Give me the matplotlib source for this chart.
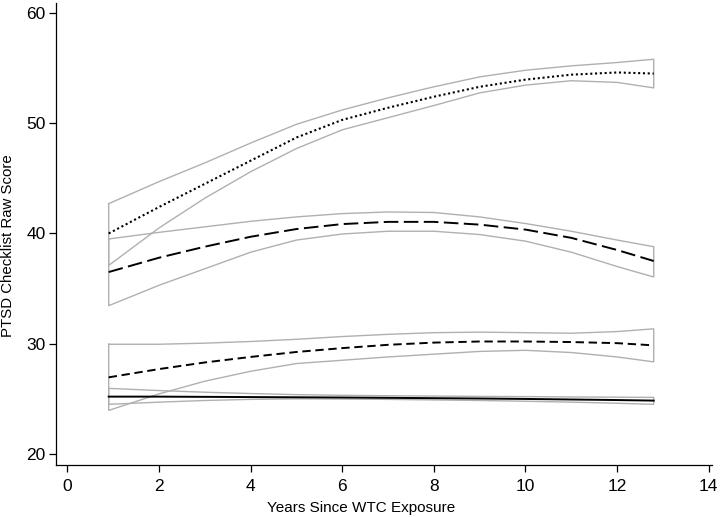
import matplotlib
matplotlib.use("Agg")
import matplotlib.pyplot as plt
import numpy as np

plt.rcParams['font.family'] = ['Liberation Sans', 'DejaVu Sans']

years = [0.9, 2, 3, 4, 5, 6, 7, 8, 9, 10, 11, 12, 12.8]

# Group 1 (dotted)
g1_mean = [40.0, 42.4, 44.5, 46.6, 48.7, 50.3, 51.4, 52.4, 53.3, 53.95, 54.4, 54.6, 54.5]
g1_upper = [42.7, 44.7, 46.4, 48.2, 49.9, 51.2, 52.3, 53.3, 54.2, 54.8, 55.2, 55.5, 55.8]
g1_lower = [37.1, 40.5, 43.2, 45.6, 47.7, 49.4, 50.5, 51.6, 52.75, 53.45, 53.85, 53.7, 53.2]

# Group 2 (long dash)
g2_mean = [36.5, 37.8, 38.8, 39.7, 40.4, 40.85, 41.05, 41.05, 40.8, 40.35, 39.6, 38.5, 37.5]
g2_upper = [39.5, 40.1, 40.6, 41.1, 41.5, 41.8, 41.95, 41.9, 41.5, 40.9, 40.2, 39.4, 38.8]
g2_lower = [33.45, 35.3, 36.8, 38.3, 39.4, 39.95, 40.2, 40.2, 39.9, 39.3, 38.3, 37.0, 36.05]

# Group 3 (short dash)
g3_mean = [26.95, 27.7, 28.3, 28.8, 29.25, 29.6, 29.9, 30.1, 30.2, 30.2, 30.15, 30.05, 29.85]
g3_upper = [29.95, 29.95, 30.05, 30.2, 30.4, 30.65, 30.85, 31.0, 31.05, 31.0, 30.95, 31.1, 31.35]
g3_lower = [23.95, 25.45, 26.6, 27.5, 28.2, 28.5, 28.8, 29.05, 29.3, 29.4, 29.2, 28.8, 28.35]

# Group 4 (solid)
g4_mean = [25.2, 25.2, 25.18, 25.16, 25.14, 25.12, 25.09, 25.06, 25.03, 24.99, 24.94, 24.89, 24.84]
g4_upper = [25.95, 25.75, 25.6, 25.48, 25.38, 25.32, 25.28, 25.25, 25.22, 25.2, 25.17, 25.15, 25.13]
g4_lower = [24.5, 24.7, 24.85, 24.95, 25.0, 24.98, 24.95, 24.9, 24.85, 24.78, 24.7, 24.6, 24.5]

x_ticks = [0, 2, 4, 6, 8, 10, 12, 14]
y_ticks = [20, 30, 40, 50, 60]

fig = plt.figure(figsize=(7.22, 5.17), dpi=100)
ax = fig.add_axes([0.0776, 0.1006, 0.9084, 0.8936])

band_color = '#b0b0b0'
groups = [
    (g1_mean, g1_upper, g1_lower, (0, (1.0, 1.3)), 1.5),
    (g2_mean, g2_upper, g2_lower, (0, (7.5, 2.8)), 1.4),
    (g3_mean, g3_upper, g3_lower, (0, (4.3, 2.4)), 1.4),
    (g4_mean, g4_upper, g4_lower, '-', 1.4),
]

for mean, up, lo, ls, lw in groups:
    bx = list(years) + list(years[::-1]) + [years[0]]
    by = list(up) + list(lo[::-1]) + [up[0]]
    ax.plot(bx, by, color=band_color, lw=1.0, solid_joinstyle='miter')

for mean, up, lo, ls, lw in groups:
    ax.plot(years, mean, color='black', lw=lw, linestyle=ls)

ax.set_xlim(-0.25, 14.07)
ax.set_ylim(19.0, 60.9)
ax.set_xticks(x_ticks)
ax.set_yticks(y_ticks)
ax.spines['top'].set_visible(False)
ax.spines['right'].set_visible(False)
for s in ['left', 'bottom']:
    ax.spines[s].set_linewidth(0.9)
ax.tick_params(axis='both', direction='out', length=5, width=0.9, labelsize=12.5)
ax.tick_params(axis='x', pad=5)
ax.tick_params(axis='y', pad=2.5)
ax.set_xlabel('Years Since WTC Exposure', fontsize=11)
ax.set_ylabel('PTSD Checklist Raw Score', fontsize=10.8)
ax.xaxis.set_label_coords(0.465, -0.077)
ax.yaxis.set_label_coords(-0.062, 0.474)

fig.savefig('out.png', dpi=100)
